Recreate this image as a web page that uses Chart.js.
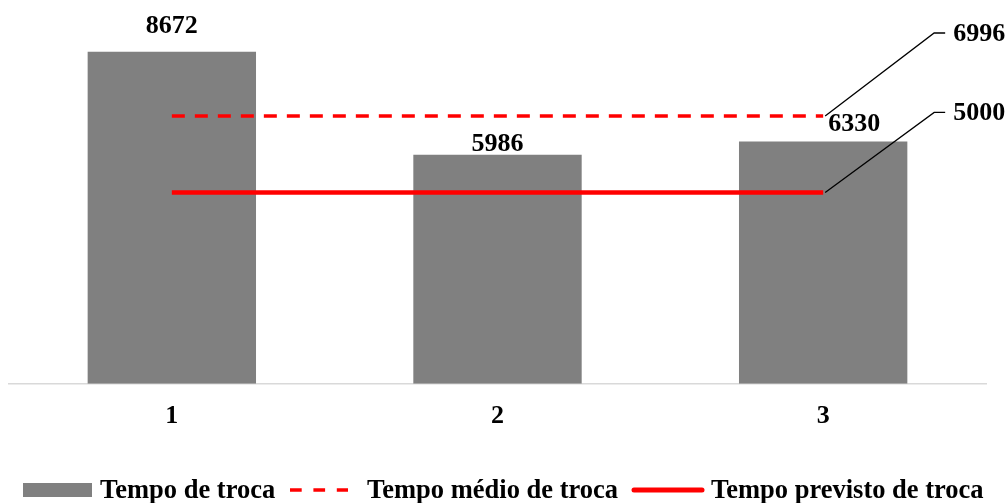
<!DOCTYPE html>
<html>
<head>
<meta charset="utf-8">
<script src="https://cdn.jsdelivr.net/npm/chart.js@4/dist/chart.umd.min.js"></script>
<style>
  html, body { margin: 0; padding: 0; background: #ffffff; }
  #wrap { width: 1008px; height: 503px; position: relative; }
</style>
</head>
<body>
<div id="wrap"><canvas id="c" width="1008" height="503"></canvas></div>
<script>
// Categories and series
const categories = ['1', '2', '3'];
const tempoTroca = [8672, 5986, 6330];
const tempoMedio = [6996, 6996, 6996];
const tempoPrevisto = [5000, 5000, 5000];

const seriesNames = ['Tempo de troca', 'Tempo médio de troca', 'Tempo previsto de troca'];

const FONT = '"Liberation Serif", "Times New Roman", serif';
const GRAY = '#808080';
const RED = '#ff0000';

// Value labels above bars (center offsets from bar top, in px)
const barLabelPlugin = {
  id: 'barLabels',
  afterDatasetsDraw(chart) {
    const ctx = chart.ctx;
    const meta = chart.getDatasetMeta(0);
    const shifts = [[0, -26], [0, -10], [31, -17]];
    ctx.save();
    ctx.font = 'bold 26px ' + FONT;
    ctx.fillStyle = '#000';
    ctx.textAlign = 'center';
    ctx.textBaseline = 'middle';
    meta.data.forEach((bar, i) => {
      const s = shifts[i];
      ctx.fillText(String(tempoTroca[i]), bar.x + s[0], bar.y + s[1]);
    });
    ctx.restore();
  }
};

// Callout labels for the two reference lines, at their last point
const calloutPlugin = {
  id: 'callouts',
  afterDatasetsDraw(chart) {
    const ctx = chart.ctx;
    const items = [
      { ds: 1, values: tempoMedio, dy: -83 },
      { ds: 2, values: tempoPrevisto, dy: -80 }
    ];
    ctx.save();
    ctx.strokeStyle = '#000';
    ctx.lineWidth = 1.3;
    ctx.font = 'bold 26px ' + FONT;
    ctx.fillStyle = '#000';
    ctx.textAlign = 'left';
    ctx.textBaseline = 'middle';
    items.forEach(it => {
      const meta = chart.getDatasetMeta(it.ds);
      const last = meta.data[meta.data.length - 1];
      const x0 = last.x + 2, y0 = last.y;
      const x1 = x0 + 109, y1 = y0 + it.dy;
      ctx.beginPath();
      ctx.moveTo(x0, y0);
      ctx.lineTo(x1, y1);
      ctx.lineTo(x1 + 11, y1);
      ctx.stroke();
      ctx.fillText(String(it.values[it.values.length - 1]), x1 + 19, y1 + 1);
    });
    ctx.restore();
  }
};

// Legend along the bottom
const legendPlugin = {
  id: 'bottomLegend',
  afterDraw(chart) {
    const ctx = chart.ctx;
    const y = 490;
    ctx.save();
    ctx.font = 'bold 26.5px ' + FONT;
    ctx.textBaseline = 'middle';
    ctx.textAlign = 'left';
    // bar swatch
    ctx.fillStyle = GRAY;
    ctx.fillRect(23, y - 7, 69, 14);
    ctx.fillStyle = '#000';
    ctx.fillText(seriesNames[0], 100, y + 1);
    // dashed swatch
    ctx.strokeStyle = RED;
    ctx.lineWidth = 3.5;
    ctx.setLineDash([11.7, 11.7]);
    ctx.beginPath();
    ctx.moveTo(290, y);
    ctx.lineTo(348, y);
    ctx.stroke();
    ctx.setLineDash([]);
    ctx.fillText(seriesNames[1], 367, y + 1);
    // solid swatch
    ctx.lineWidth = 5;
    ctx.lineCap = 'round';
    ctx.beginPath();
    ctx.moveTo(634, y);
    ctx.lineTo(702, y);
    ctx.stroke();
    ctx.fillText(seriesNames[2], 711, y + 1);
    ctx.restore();
  }
};

new Chart(document.getElementById('c'), {
  data: {
    labels: categories,
    datasets: [
      {
        type: 'bar',
        label: seriesNames[0],
        data: tempoTroca,
        backgroundColor: GRAY,
        borderWidth: 0,
        categoryPercentage: 1,
        barPercentage: 0.517,
        order: 3
      },
      {
        type: 'line',
        label: seriesNames[1],
        data: tempoMedio,
        borderColor: RED,
        borderWidth: 3.5,
        borderDash: [13, 10],
        pointRadius: 0,
        fill: false,
        order: 1
      },
      {
        type: 'line',
        label: seriesNames[2],
        data: tempoPrevisto,
        borderColor: RED,
        borderWidth: 4.5,
        pointRadius: 0,
        fill: false,
        order: 2
      }
    ]
  },
  options: {
    responsive: false,
    animation: false,
    layout: { padding: { left: 9, right: 22, top: 1, bottom: 54 } },
    plugins: {
      legend: { display: false },
      tooltip: { enabled: false }
    },
    scales: {
      x: {
        grid: { display: false, drawTicks: false },
        border: { display: true, color: '#d9d9d9', width: 1.5 },
        ticks: {
          padding: 17,
          color: '#000',
          font: { family: FONT, size: 26, weight: 'bold' }
        }
      },
      y: {
        display: false,
        min: 0,
        max: 10000
      }
    }
  },
  plugins: [barLabelPlugin, calloutPlugin, legendPlugin]
});
</script>
</body>
</html>
